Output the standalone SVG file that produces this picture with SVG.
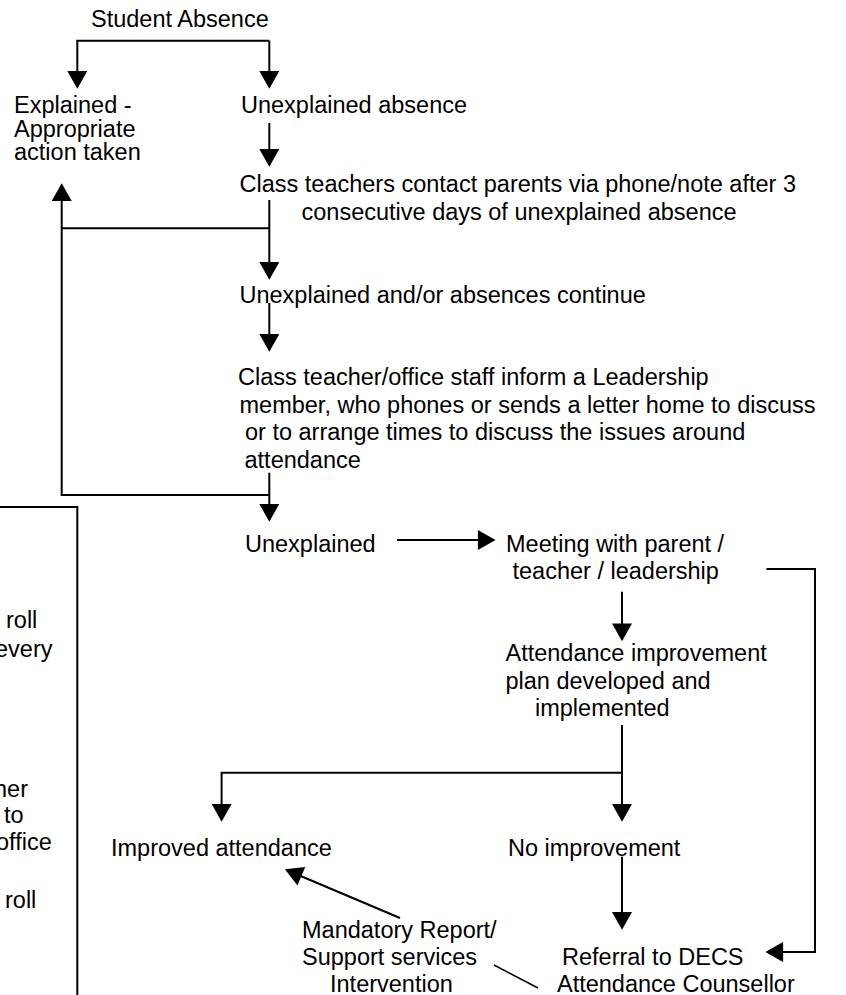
<svg xmlns="http://www.w3.org/2000/svg" width="846" height="995" viewBox="0 0 846 995">
<style>
text{font-family:"Liberation Sans",Arial,sans-serif;font-size:23.5px;fill:#000}
.c{fill:none;stroke:#000;stroke-width:2}
.a{fill:none;stroke:#000;stroke-width:2;marker-end:url(#ah)}
.t{fill:none;stroke:#000;stroke-width:1.5}
</style>
<defs>
<marker id="ah" markerUnits="userSpaceOnUse" markerWidth="20" markerHeight="20" viewBox="0 0 16 18" refX="14.5" refY="9" orient="auto">
<path d="M0,0 L16,9 L0,18 z" fill="#000"/>
</marker>
</defs>
<rect width="846" height="995" fill="#fff"/>
<g id="side-box">
<path class="c" d="M-2,507 H77.3 V1000"/>
<text x="6" y="628">roll</text>
<text x="-5" y="657">every</text>
<text x="-6" y="797">her</text>
<text x="4" y="823">to</text>
<text x="-4" y="850">office</text>
<text x="5" y="908">roll</text>
</g>
<g id="connectors">
<path class="a" d="M269.3,40.7 H77.3 V87"/>
<path class="a" d="M269.3,40.7 V87"/>
<path class="a" d="M269.3,123 V165"/>
<path class="a" d="M269.3,200 V278"/>
<path class="c" d="M269.3,228.3 H61.7"/>
<path class="a" d="M61.7,495 V185"/>
<path class="a" d="M269.3,303 V350"/>
<path class="a" d="M269.3,472.7 V520"/>
<path class="c" d="M269.3,495 H60.7"/>
<path class="a" d="M397,540 H494"/>
<path class="a" d="M766.5,569 H815 V952 H767"/>
<path class="a" d="M622,591.7 V639.5"/>
<path class="a" d="M622,725 V820"/>
<path class="a" d="M622,772.7 H221.6 V820"/>
<path class="a" d="M622,856.7 V928"/>
<path class="a" d="M400,918 L286.5,870"/>
<path class="t" d="M494,965 L538,988"/>
</g>
<g id="n-student-absence"><text x="91" y="27">Student Absence</text></g>
<g id="n-explained">
<text x="14" y="113">Explained -</text>
<text x="14" y="136.5">Appropriate</text>
<text x="14" y="160">action taken</text>
</g>
<g id="n-unexplained-absence"><text x="241" y="113">Unexplained absence</text></g>
<g id="n-contact-parents">
<text x="239.5" y="192">Class teachers contact parents via phone/note after 3</text>
<text x="301.5" y="219.5">consecutive days of unexplained absence</text>
</g>
<g id="n-continue"><text x="239.5" y="303">Unexplained and/or absences continue</text></g>
<g id="n-inform-leadership">
<text x="238" y="385">Class teacher/office staff inform a Leadership</text>
<text x="239.5" y="413">member, who phones or sends a letter home to discuss</text>
<text x="245" y="440">or to arrange times to discuss the issues around</text>
<text x="244.5" y="468">attendance</text>
</g>
<g id="n-unexplained"><text x="245" y="551.5">Unexplained</text></g>
<g id="n-meeting">
<text x="506" y="551.5">Meeting with parent /</text>
<text x="512.5" y="578.5">teacher / leadership</text>
</g>
<g id="n-plan">
<text x="505.5" y="661">Attendance improvement</text>
<text x="505.5" y="688.5">plan developed and</text>
<text x="535" y="715.5">implemented</text>
</g>
<g id="n-improved"><text x="111" y="856">Improved attendance</text></g>
<g id="n-no-improvement"><text x="508" y="856">No improvement</text></g>
<g id="n-mandatory">
<text x="302" y="937.5">Mandatory Report/</text>
<text x="302" y="965">Support services</text>
<text x="330" y="992">Intervention</text>
</g>
<g id="n-referral">
<text x="562" y="965">Referral to DECS</text>
<text x="557" y="992">Attendance Counsellor</text>
</g>
</svg>
